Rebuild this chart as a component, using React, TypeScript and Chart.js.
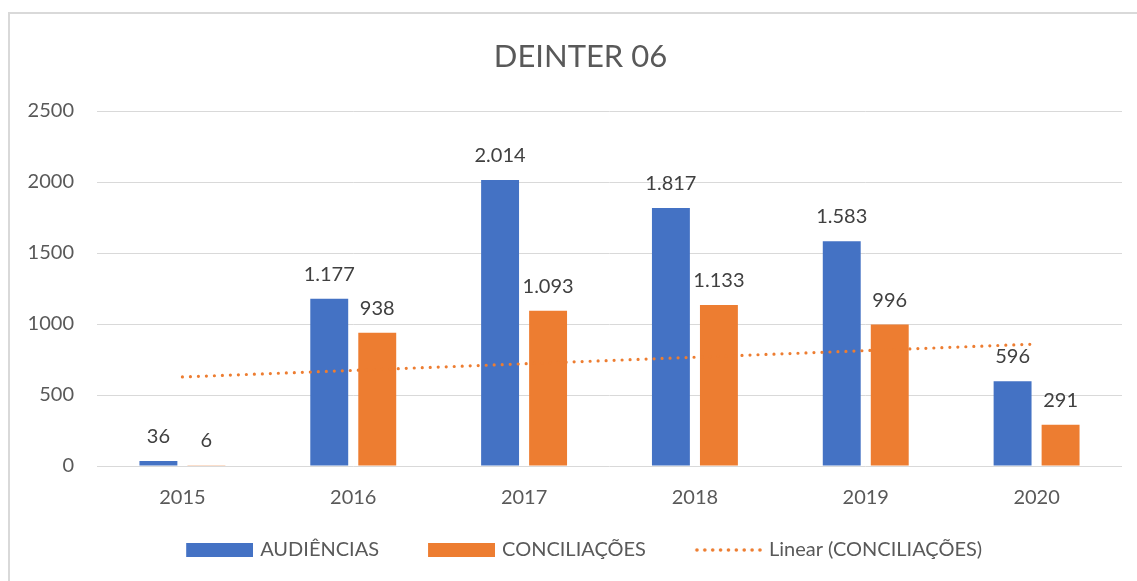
import React, { useEffect, useRef } from "react";
import { Chart, registerables } from "chart.js";

Chart.register(...registerables);

const chartTitle = "DEINTER 06";
const categories = ["2015", "2016", "2017", "2018", "2019", "2020"];
const audiencias = [36, 1177, 2014, 1817, 1583, 596];
const conciliacoes = [6, 938, 1093, 1133, 996, 291];
// Linear trend line of CONCILIAÇÕES as read at the first and last categories
const trendConciliacoes: (number | null)[] = [627, null, null, null, null, 859];
const yTickValues = [0, 500, 1000, 1500, 2000, 2500];
const seriesNames = ["AUDIÊNCIAS", "CONCILIAÇÕES", "Linear (CONCILIAÇÕES)"];

const BLUE = "#4472C4";
const ORANGE = "#ED7D31";
const TEXT = "#595959";
const LABEL = "#404040";
const GRID = "#d9d9d9";

const fmt = (n: number) => String(n).replace(/\B(?=(\d{3})+(?!\d))/g, ".");

const LEG_PAD = 11;
const COLW = 67;
const BOXW = COLW + (46 - LEG_PAD); // legend box slot (includes transparent lead gap)
const IMGW = BOXW + 6;
const IMGH = 14;

function makeBoxImage(color: string) {
  const c = document.createElement("canvas");
  c.width = IMGW;
  c.height = IMGH;
  const ctx = c.getContext("2d")!;
  ctx.fillStyle = color;
  ctx.fillRect(IMGW - COLW, 0, COLW, IMGH);
  return c;
}

function makeDotImage(color: string) {
  const c = document.createElement("canvas");
  c.width = IMGW;
  c.height = IMGH;
  const ctx = c.getContext("2d")!;
  ctx.fillStyle = color;
  const start = IMGW - COLW + 2;
  const n = 9;
  const step = (COLW - 4) / (n - 1);
  for (let i = 0; i < n; i++) {
    ctx.beginPath();
    ctx.arc(start + i * step, IMGH / 2, 1.8, 0, Math.PI * 2);
    ctx.fill();
  }
  return c;
}

const barLabelsPlugin = {
  id: "barLabels",
  afterDatasetsDraw(chart: any) {
    const ctx = chart.ctx;
    ctx.save();
    ctx.font = "20px Lato";
    ctx.fillStyle = LABEL;
    ctx.textAlign = "center";
    ctx.textBaseline = "alphabetic";
    [0, 1].forEach((di) => {
      const meta = chart.getDatasetMeta(di);
      meta.data.forEach((el: any, i: number) => {
        const v = chart.data.datasets[di].data[i] as number;
        ctx.fillText(fmt(v), el.x, el.y - 18);
      });
    });
    ctx.restore();
  },
};

export default function App() {
  const ref = useRef<HTMLCanvasElement | null>(null);

  useEffect(() => {
    if (!ref.current) return;
    Chart.defaults.font.family = "Lato";
    const images = [makeBoxImage(BLUE), makeBoxImage(ORANGE), makeDotImage(ORANGE)];

    const chart = new Chart(ref.current, {
      type: "bar",
      data: {
        labels: categories,
        datasets: [
          {
            label: seriesNames[0],
            data: audiencias,
            backgroundColor: BLUE,
            categoryPercentage: 0.562,
            barPercentage: 0.79,
            order: 1,
          },
          {
            label: seriesNames[1],
            data: conciliacoes,
            backgroundColor: ORANGE,
            categoryPercentage: 0.562,
            barPercentage: 0.79,
            order: 1,
          },
          {
            type: "line",
            label: seriesNames[2],
            data: trendConciliacoes,
            borderColor: ORANGE,
            borderWidth: 3.2,
            borderDash: [0, 8],
            borderCapStyle: "round",
            pointRadius: 0,
            spanGaps: true,
            fill: false,
            order: 0,
          } as any,
        ],
      },
      options: {
        animation: false,
        responsive: true,
        maintainAspectRatio: false,
        layout: { padding: { left: 0, right: 0, top: 0, bottom: 3 } },
        plugins: {
          title: {
            display: true,
            text: chartTitle,
            color: TEXT,
            font: { size: 31, weight: "normal", family: "Lato" },
            padding: { top: 30, bottom: 35.8 },
          },
          legend: {
            position: "bottom",
            labels: {
              usePointStyle: true,
              pointStyleWidth: BOXW,
              boxHeight: IMGH,
              padding: LEG_PAD,
              color: TEXT,
              font: { size: 20 },
              generateLabels: () =>
                seriesNames.map((text, i) => ({
                  // trailing spaces on the last item balance the lead gap of the first box
                  text: i === seriesNames.length - 1 ? text + "\u00a0\u00a0\u00a0\u00a0\u00a0\u00a0" : text,
                  pointStyle: images[i] as any,
                  fillStyle: "transparent",
                  strokeStyle: "transparent",
                  lineWidth: 0,
                  hidden: false,
                  datasetIndex: i,
                  fontColor: TEXT,
                })),
            },
          },
          tooltip: { enabled: false },
        },
        scales: {
          x: {
            grid: { display: false, drawTicks: false },
            border: { display: false },
            ticks: { color: TEXT, font: { size: 20 }, padding: 19.5 },
          },
          y: {
            min: 0,
            max: 2500,
            afterBuildTicks: (scale: any) => {
              scale.ticks = yTickValues.map((v) => ({ value: v }));
            },
            ticks: {
              stepSize: 500,
              padding: 23,
              color: TEXT,
              font: { size: 20 },
              callback: (v: any) => String(v),
            },
            grid: { color: GRID, drawTicks: false, lineWidth: 1 },
            border: { display: false },
            afterFit: (scale: any) => {
              scale.width = 89;
            },
          },
          yRight: {
            position: "right",
            grid: { display: false, drawTicks: false },
            ticks: { display: false },
            border: { display: false },
            afterFit: (scale: any) => {
              scale.width = 31;
            },
          },
        },
      },
      plugins: [barLabelsPlugin],
    });
    return () => chart.destroy();
  }, []);

  return (
    <div style={{ position: "relative", width: 1121, height: 565, overflow: "hidden" }}>
      <div style={{ position: "relative", width: 1145, height: 565 }}>
        <canvas ref={ref} />
      </div>
      <div
        style={{
          position: "fixed",
          left: 8,
          top: 12,
          right: -20,
          bottom: -20,
          borderLeft: `2px solid ${GRID}`,
          borderTop: `2px solid ${GRID}`,
          pointerEvents: "none",
        }}
      />
    </div>
  );
}
